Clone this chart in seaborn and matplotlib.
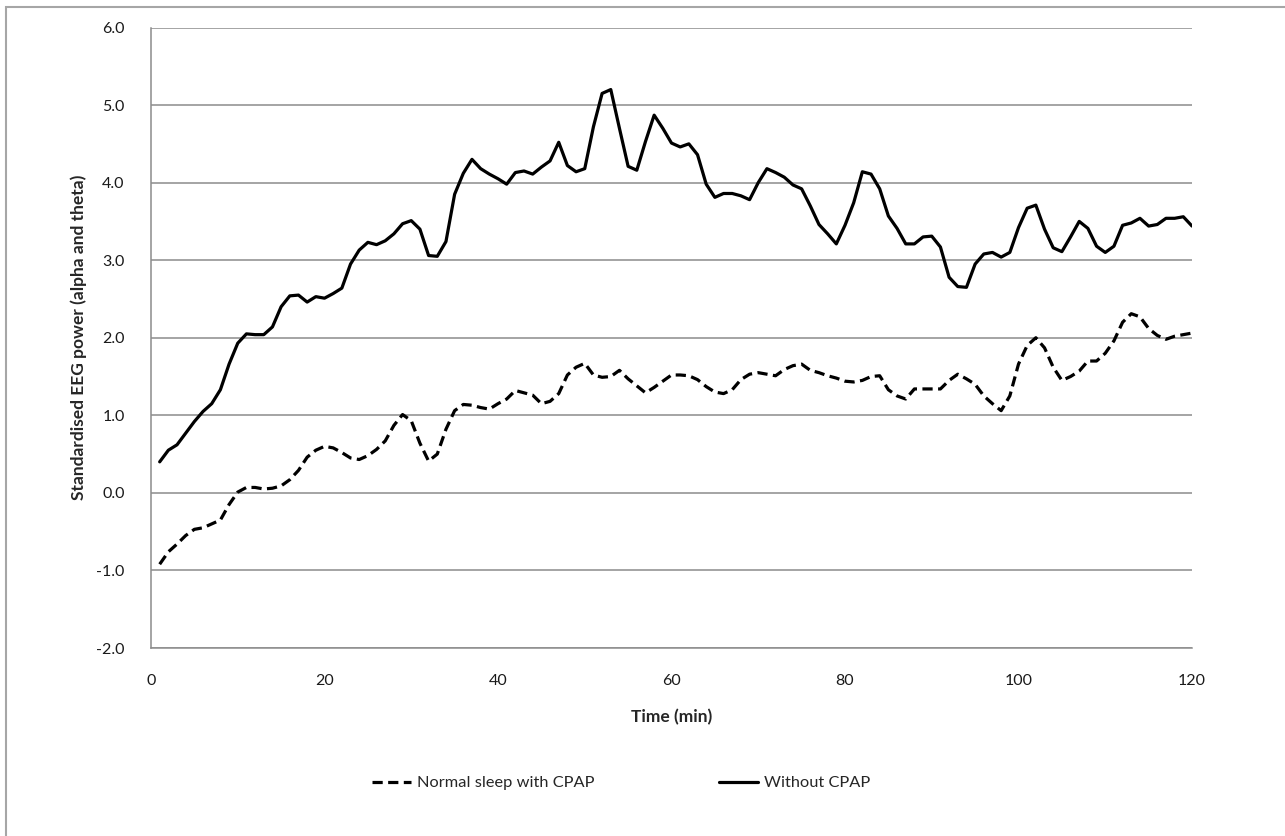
import numpy as np
import pandas as pd
import seaborn as sns
import matplotlib
matplotlib.use("Agg")
import matplotlib.pyplot as plt
from matplotlib.patches import Rectangle

# time axis, one reading per minute
minutes = list(range(1, 121))

# Without CPAP (solid line)
without_cpap = [
    0.40, 0.55, 0.62, 0.77, 0.92, 1.05, 1.15, 1.33, 1.66, 1.93,
    2.05, 2.04, 2.04, 2.14, 2.40, 2.54, 2.55, 2.46, 2.53, 2.51,
    2.57, 2.64, 2.95, 3.13, 3.23, 3.20, 3.25, 3.34, 3.47, 3.51,
    3.40, 3.06, 3.05, 3.24, 3.85, 4.12, 4.30, 4.18, 4.11, 4.05,
    3.98, 4.13, 4.15, 4.11, 4.20, 4.28, 4.52, 4.22, 4.14, 4.18,
    4.72, 5.15, 5.20, 4.70, 4.21, 4.16, 4.53, 4.87, 4.70, 4.51,
    4.46, 4.50, 4.36, 3.98, 3.81, 3.86, 3.86, 3.83, 3.78, 4.00,
    4.18, 4.13, 4.07, 3.97, 3.92, 3.70, 3.46, 3.34, 3.21, 3.45,
    3.74, 4.14, 4.11, 3.92, 3.57, 3.41, 3.21, 3.21, 3.30, 3.31,
    3.17, 2.78, 2.66, 2.65, 2.95, 3.08, 3.10, 3.04, 3.10, 3.42,
    3.67, 3.71, 3.40, 3.16, 3.11, 3.30, 3.50, 3.41, 3.18, 3.10,
    3.18, 3.45, 3.48, 3.54, 3.44, 3.46, 3.54, 3.54, 3.56, 3.44,
]

# Normal sleep with CPAP (dashed line)
with_cpap = [
    -0.92, -0.76, -0.66, -0.55, -0.47, -0.45, -0.40, -0.35, -0.15, 0.01,
    0.07, 0.07, 0.05, 0.06, 0.09, 0.17, 0.29, 0.46, 0.55, 0.60,
    0.58, 0.52, 0.45, 0.43, 0.48, 0.56, 0.67, 0.87, 1.01, 0.93,
    0.64, 0.41, 0.50, 0.82, 1.06, 1.14, 1.13, 1.10, 1.08, 1.15,
    1.21, 1.32, 1.29, 1.26, 1.15, 1.18, 1.28, 1.52, 1.62, 1.67,
    1.52, 1.49, 1.50, 1.58, 1.47, 1.38, 1.29, 1.36, 1.44, 1.52,
    1.52, 1.51, 1.46, 1.37, 1.30, 1.28, 1.33, 1.46, 1.53, 1.55,
    1.53, 1.51, 1.59, 1.64, 1.66, 1.58, 1.55, 1.51, 1.48, 1.44,
    1.43, 1.45, 1.50, 1.51, 1.33, 1.25, 1.21, 1.34, 1.34, 1.34,
    1.34, 1.45, 1.53, 1.47, 1.40, 1.25, 1.15, 1.06, 1.25, 1.66,
    1.90, 2.00, 1.87, 1.62, 1.45, 1.50, 1.57, 1.70, 1.70, 1.80,
    1.96, 2.20, 2.31, 2.27, 2.12, 2.03, 1.98, 2.02, 2.04, 2.06,
]

series_names = ["Normal sleep with CPAP", "Without CPAP"]
x_ticks = [0, 20, 40, 60, 80, 100, 120]
y_ticks = [-2.0, -1.0, 0.0, 1.0, 2.0, 3.0, 4.0, 5.0, 6.0]


def main():
    sns.set_style("white")
    plt.rcParams['font.family'] = ['Lato', 'DejaVu Sans']

    W, H = 1285, 836
    fig = plt.figure(figsize=(W / 100, H / 100), dpi=100)
    fig.subplots_adjust(left=151 / W, right=1192 / W, top=1 - 27.5 / H, bottom=1 - 648 / H)
    ax = fig.add_subplot(111)

    # outer chart border (only left and top visible in the crop)
    fig.patches.append(Rectangle((6 / W, -0.1), 1.2, 1 - 7 / H + 0.1, transform=fig.transFigure,
                                 fill=False, edgecolor="#a6a6a6", linewidth=1.5))

    sns.lineplot(x=minutes, y=with_cpap, ax=ax, color="black", linewidth=2.3,
                 linestyle=(0, (3.2, 1.7)), label=series_names[0])
    sns.lineplot(x=minutes, y=without_cpap, ax=ax, color="black", linewidth=2.3,
                 label=series_names[1])

    ax.set_xlim(0, 120)
    ax.set_ylim(-2, 6)
    ax.set_xticks(x_ticks)
    ax.set_yticks(y_ticks)
    ax.set_yticklabels([f"{v:.1f}" for v in y_ticks])
    ax.yaxis.grid(True, color="#8c8c8c", linewidth=1.1)
    ax.xaxis.grid(False)
    for s in ["top", "right"]:
        ax.spines[s].set_visible(False)
    for s in ["left", "bottom"]:
        ax.spines[s].set_color("#8c8c8c")
        ax.spines[s].set_linewidth(1.1)
    ax.tick_params(axis="both", which="major", direction="out", width=1.1,
                   color="#8c8c8c", labelsize=11.5, labelcolor="#1a1a1a")
    ax.tick_params(axis="x", length=5, pad=14)
    ax.tick_params(axis="y", length=7, pad=12)

    ax.set_xlabel("Time (min)", fontsize=12.5, fontweight="bold")
    ax.set_ylabel("Standardised EEG power (alpha and theta)", fontsize=12.5, fontweight="bold")
    ax.xaxis.set_label_coords(0.5, -(709 - 648) / (648 - 27.5))
    ax.yaxis.set_label_coords(-(151 - 87) / (1192 - 151), 0.5)

    ax.get_legend().remove()
    handles, labels = ax.get_legend_handles_labels()
    fig.legend(handles, labels, loc="center", bbox_to_anchor=(621 / W, 1 - 783 / H),
               ncol=2, frameon=False, fontsize=11.8, handlelength=2.4,
               handletextpad=0.35, columnspacing=7.6)

    fig.savefig("out.png", dpi=100)


if __name__ == "__main__":
    main()
